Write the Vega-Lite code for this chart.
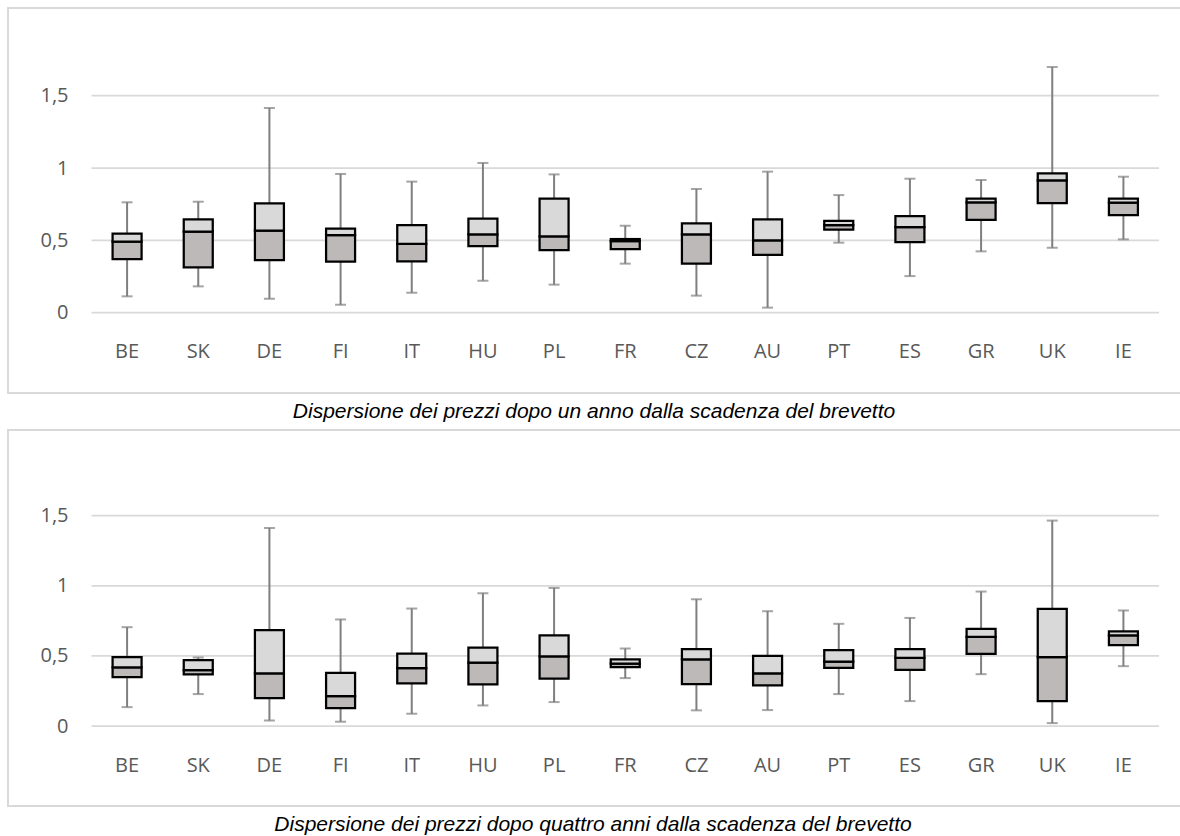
{
  "$schema": "https://vega.github.io/schema/vega-lite/v6.json",
  "padding": {"left": 7, "top": 7, "right": 0, "bottom": 0},
  "background": "white",
  "spacing": 6,
  "config": {
    "view": {"stroke": "#d9d9d9", "strokeWidth": 2},
    "axis": {"grid": false, "domain": false, "ticks": false, "labelFont": "Open Sans", "labelFontSize": 20, "labelColor": "#595959"},
    "title": {"font": "Liberation Sans", "fontSize": 21, "fontStyle": "italic", "fontWeight": "normal", "color": "#000000"}
  },
  "datasets": {
    "grid": [{"g": 0}, {"g": 0.5}, {"g": 1}, {"g": 1.5}],
    "p1": [
      {"country": "BE", "min": 0.113, "q1": 0.371, "med": 0.491, "q3": 0.546, "max": 0.763},
      {"country": "SK", "min": 0.182, "q1": 0.313, "med": 0.560, "q3": 0.645, "max": 0.767},
      {"country": "DE", "min": 0.097, "q1": 0.364, "med": 0.567, "q3": 0.756, "max": 1.415},
      {"country": "FI", "min": 0.055, "q1": 0.353, "med": 0.537, "q3": 0.581, "max": 0.959},
      {"country": "IT", "min": 0.138, "q1": 0.355, "med": 0.475, "q3": 0.606, "max": 0.906},
      {"country": "HU", "min": 0.221, "q1": 0.461, "med": 0.541, "q3": 0.650, "max": 1.035},
      {"country": "PL", "min": 0.194, "q1": 0.433, "med": 0.528, "q3": 0.788, "max": 0.956},
      {"country": "FR", "min": 0.339, "q1": 0.440, "med": 0.495, "q3": 0.509, "max": 0.601},
      {"country": "CZ", "min": 0.118, "q1": 0.339, "med": 0.541, "q3": 0.618, "max": 0.855},
      {"country": "AU", "min": 0.035, "q1": 0.399, "med": 0.500, "q3": 0.645, "max": 0.975},
      {"country": "PT", "min": 0.484, "q1": 0.574, "med": 0.606, "q3": 0.634, "max": 0.813},
      {"country": "ES", "min": 0.253, "q1": 0.488, "med": 0.592, "q3": 0.668, "max": 0.926},
      {"country": "GR", "min": 0.424, "q1": 0.641, "med": 0.763, "q3": 0.788, "max": 0.917},
      {"country": "UK", "min": 0.449, "q1": 0.758, "med": 0.915, "q3": 0.963, "max": 1.698},
      {"country": "IE", "min": 0.507, "q1": 0.675, "med": 0.760, "q3": 0.788, "max": 0.940}
    ],
    "p2": [
      {"country": "BE", "min": 0.135, "q1": 0.349, "med": 0.418, "q3": 0.491, "max": 0.705},
      {"country": "SK", "min": 0.228, "q1": 0.368, "med": 0.399, "q3": 0.470, "max": 0.489},
      {"country": "DE", "min": 0.040, "q1": 0.199, "med": 0.375, "q3": 0.684, "max": 1.412},
      {"country": "FI", "min": 0.031, "q1": 0.128, "med": 0.214, "q3": 0.380, "max": 0.760},
      {"country": "IT", "min": 0.088, "q1": 0.304, "med": 0.413, "q3": 0.517, "max": 0.838},
      {"country": "HU", "min": 0.147, "q1": 0.297, "med": 0.453, "q3": 0.560, "max": 0.947},
      {"country": "PL", "min": 0.171, "q1": 0.339, "med": 0.496, "q3": 0.646, "max": 0.985},
      {"country": "FR", "min": 0.342, "q1": 0.420, "med": 0.446, "q3": 0.475, "max": 0.553},
      {"country": "CZ", "min": 0.112, "q1": 0.299, "med": 0.475, "q3": 0.548, "max": 0.904},
      {"country": "AU", "min": 0.114, "q1": 0.290, "med": 0.375, "q3": 0.501, "max": 0.819},
      {"country": "PT", "min": 0.228, "q1": 0.415, "med": 0.460, "q3": 0.541, "max": 0.729},
      {"country": "ES", "min": 0.178, "q1": 0.401, "med": 0.487, "q3": 0.548, "max": 0.771},
      {"country": "GR", "min": 0.370, "q1": 0.515, "med": 0.636, "q3": 0.693, "max": 0.959},
      {"country": "UK", "min": 0.021, "q1": 0.178, "med": 0.491, "q3": 0.836, "max": 1.465},
      {"country": "IE", "min": 0.427, "q1": 0.577, "med": 0.646, "q3": 0.676, "max": 0.824}
    ]
  },
  "vconcat": [
    {
      "width": 1176,
      "height": 385,
      "title": {"text": "Dispersione dei prezzi dopo un anno dalla scadenza del brevetto", "orient": "bottom", "anchor": "middle", "offset": 8, "dx": -2},
      "data": {"name": "p1"},
      "layer": [
        {
          "data": {"name": "grid"},
          "mark": {"type": "rule", "color": "#d9d9d9", "strokeWidth": 1.75, "xOffset": -35.6, "x2Offset": 35.6},
          "encoding": {
            "x": {"datum": "BE", "type": "nominal", "title": null},
            "x2": {"datum": "IE"},
            "y": {"field": "g", "type": "quantitative", "title": null}
          }
        },
        {
          "mark": {"type": "rule", "color": "#7f7f7f", "strokeWidth": 2},
          "encoding": {
            "x": {"field": "country", "type": "nominal", "title": null,
              "scale": {"domain": ["BE","SK","DE","FI","IT","HU","PL","FR","CZ","AU","PT","ES","GR","UK","IE"], "paddingInner": 0, "paddingOuter": 0.7623, "align": 0.7696},
              "axis": {"orient": "bottom", "offset": -52, "labelPadding": 0, "labelAngle": 0, "labelAlign": "center", "labelBaseline": "top"}},
            "y": {"field": "min", "type": "quantitative", "title": null,
              "scale": {"domain": [-0.555, 2.106], "nice": false, "zero": false},
              "axis": {"orient": "left", "offset": -60, "labelPadding": 0, "labelAlign": "right", "values": [0, 0.5, 1, 1.5], "labelExpr": "replace(toString(datum.value), '.', ',')"}},
            "y2": {"field": "max"}
          }
        },
        {
          "mark": {"type": "tick", "color": "#7f7f7f", "thickness": 2, "size": 11},
          "encoding": {
            "x": {"field": "country", "type": "nominal", "title": null},
            "y": {"field": "min", "type": "quantitative", "title": null}
          }
        },
        {
          "mark": {"type": "tick", "color": "#7f7f7f", "thickness": 2, "size": 11},
          "encoding": {
            "x": {"field": "country", "type": "nominal", "title": null},
            "y": {"field": "max", "type": "quantitative", "title": null}
          }
        },
        {
          "mark": {"type": "bar", "size": 29, "fill": "#bdb9b9", "stroke": "#000000", "strokeWidth": 2.25},
          "encoding": {
            "x": {"field": "country", "type": "nominal", "title": null},
            "y": {"field": "q1", "type": "quantitative", "title": null},
            "y2": {"field": "med"}
          }
        },
        {
          "mark": {"type": "bar", "size": 29, "fill": "#d9d9d9", "stroke": "#000000", "strokeWidth": 2.25},
          "encoding": {
            "x": {"field": "country", "type": "nominal", "title": null},
            "y": {"field": "med", "type": "quantitative", "title": null},
            "y2": {"field": "q3"}
          }
        }
      ]
    },
    {
      "width": 1176,
      "height": 376,
      "title": {"text": "Dispersione dei prezzi dopo quattro anni dalla scadenza del brevetto", "orient": "bottom", "anchor": "middle", "offset": 8, "dx": -3},
      "data": {"name": "p2"},
      "layer": [
        {
          "data": {"name": "grid"},
          "mark": {"type": "rule", "color": "#d9d9d9", "strokeWidth": 1.75, "xOffset": -35.6, "x2Offset": 35.6},
          "encoding": {
            "x": {"datum": "BE", "type": "nominal", "title": null},
            "x2": {"datum": "IE"},
            "y": {"field": "g", "type": "quantitative", "title": null}
          }
        },
        {
          "mark": {"type": "rule", "color": "#7f7f7f", "strokeWidth": 2},
          "encoding": {
            "x": {"field": "country", "type": "nominal", "title": null,
              "scale": {"domain": ["BE","SK","DE","FI","IT","HU","PL","FR","CZ","AU","PT","ES","GR","UK","IE"], "paddingInner": 0, "paddingOuter": 0.7623, "align": 0.7696},
              "axis": {"orient": "bottom", "offset": -51, "labelPadding": 0, "labelAngle": 0, "labelAlign": "center", "labelBaseline": "top"}},
            "y": {"field": "min", "type": "quantitative", "title": null,
              "scale": {"domain": [-0.570, 2.111], "nice": false, "zero": false},
              "axis": {"orient": "left", "offset": -60, "labelPadding": 0, "labelAlign": "right", "values": [0, 0.5, 1, 1.5], "labelExpr": "replace(toString(datum.value), '.', ',')"}},
            "y2": {"field": "max"}
          }
        },
        {
          "mark": {"type": "tick", "color": "#7f7f7f", "thickness": 2, "size": 11},
          "encoding": {
            "x": {"field": "country", "type": "nominal", "title": null},
            "y": {"field": "min", "type": "quantitative", "title": null}
          }
        },
        {
          "mark": {"type": "tick", "color": "#7f7f7f", "thickness": 2, "size": 11},
          "encoding": {
            "x": {"field": "country", "type": "nominal", "title": null},
            "y": {"field": "max", "type": "quantitative", "title": null}
          }
        },
        {
          "mark": {"type": "bar", "size": 29, "fill": "#bdb9b9", "stroke": "#000000", "strokeWidth": 2.25},
          "encoding": {
            "x": {"field": "country", "type": "nominal", "title": null},
            "y": {"field": "q1", "type": "quantitative", "title": null},
            "y2": {"field": "med"}
          }
        },
        {
          "mark": {"type": "bar", "size": 29, "fill": "#d9d9d9", "stroke": "#000000", "strokeWidth": 2.25},
          "encoding": {
            "x": {"field": "country", "type": "nominal", "title": null},
            "y": {"field": "med", "type": "quantitative", "title": null},
            "y2": {"field": "q3"}
          }
        }
      ]
    }
  ]
}
